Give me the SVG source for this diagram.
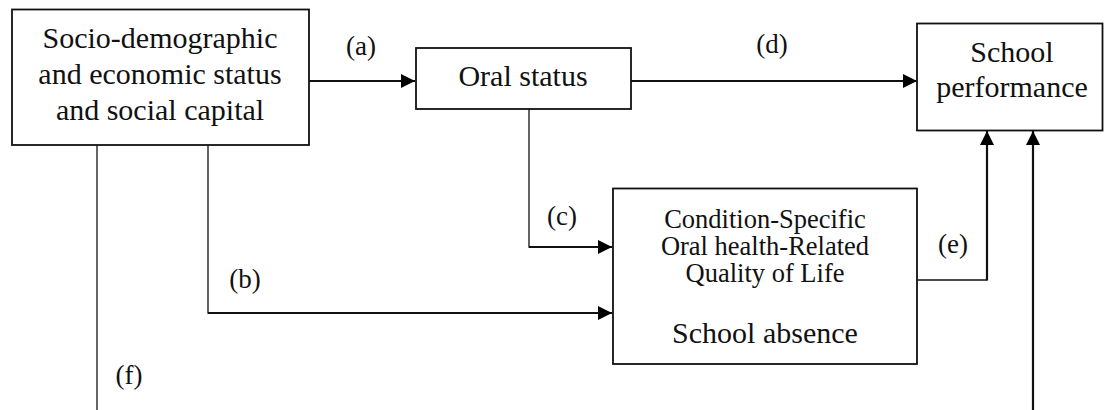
<svg xmlns="http://www.w3.org/2000/svg" width="1104" height="410" viewBox="0 0 1104 410">
<style>
  .box { fill: #ffffff; stroke: #111111; stroke-width: 1.8; }
  .t { font-family: "Liberation Serif", "Times New Roman", serif; fill: #111111; text-anchor: middle; }
  .t30 { font-size: 30px; }
  .t27 { font-size: 26.5px; }
  .lbl { font-family: "Liberation Serif", "Times New Roman", serif; font-size: 27px; fill: #111111; text-anchor: middle; }
  .thin { fill: none; stroke: #111111; stroke-width: 1.3; }
  .thick { fill: none; stroke: #111111; stroke-width: 2.2; }
</style>
<defs>
  <marker id="arr" markerUnits="userSpaceOnUse" markerWidth="16" markerHeight="16" refX="14" refY="7" orient="auto">
    <path d="M0,0 L14,7 L0,14 Z" fill="#000000"/>
  </marker>
</defs>
<rect width="1104" height="410" fill="#ffffff"/>

<g id="connectors">
  <line class="thick" x1="309" y1="81" x2="415" y2="81" marker-end="url(#arr)"/>
  <line class="thick" x1="631" y1="81" x2="917" y2="81" marker-end="url(#arr)"/>
  <polyline class="thin" points="529,109 529,247 560,247"/>
  <line class="thick" x1="529" y1="247" x2="612" y2="247" marker-end="url(#arr)"/>
  <polyline class="thin" points="208,145 208,313 230,313"/>
  <line class="thick" x1="208" y1="313" x2="612" y2="313" marker-end="url(#arr)"/>
  <line class="thin" x1="97" y1="145" x2="97" y2="410"/>
  <polyline class="thin" points="917,280 987,280"/>
  <line class="thick" x1="987" y1="280.5" x2="987" y2="131" marker-end="url(#arr)"/>
  <line class="thick" x1="1033" y1="410" x2="1033" y2="131" marker-end="url(#arr)"/>
  <text class="lbl" x="361" y="55">(a)</text>
  <text class="lbl" x="772" y="53">(d)</text>
  <text class="lbl" x="562" y="225">(c)</text>
  <text class="lbl" x="245" y="288">(b)</text>
  <text class="lbl" x="953" y="253">(e)</text>
  <text class="lbl" x="129" y="384">(f)</text>
</g>

<g id="socio">
  <rect class="box" x="12" y="9.5" width="297" height="135.5"/>
  <text class="t t30" x="160" y="48">Socio-demographic</text>
  <text class="t t30" x="160" y="84">and economic status</text>
  <text class="t t30" x="160" y="120">and social capital</text>
</g>

<g id="oral">
  <rect class="box" x="416" y="48" width="215" height="61"/>
  <text class="t t30" x="523" y="86">Oral status</text>
</g>

<g id="school">
  <rect class="box" x="917" y="23.5" width="185.5" height="107"/>
  <text class="t t30" x="1012" y="62">School</text>
  <text class="t t30" x="1012" y="97">performance</text>
</g>

<g id="ohrqol">
  <rect class="box" x="613" y="188.5" width="304" height="175.5"/>
  <text class="t t27" x="765" y="228">Condition-Specific</text>
  <text class="t t27" x="765" y="255">Oral health-Related</text>
  <text class="t t27" x="765" y="282">Quality of Life</text>
  <text class="t t30" x="765" y="343">School absence</text>
</g>
</svg>
